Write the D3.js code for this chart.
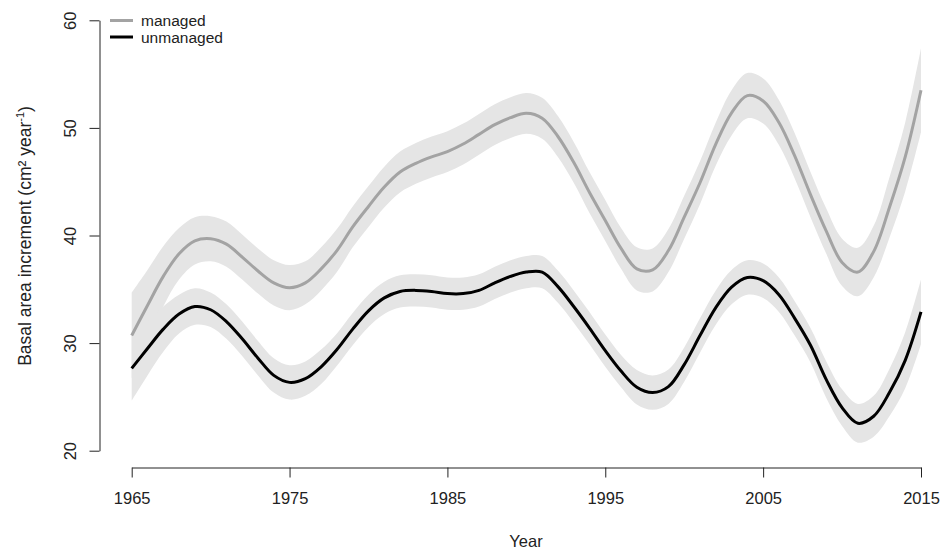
<!DOCTYPE html>
<html>
<head>
<meta charset="utf-8">
<script src="https://cdn.jsdelivr.net/npm/d3@7"></script>
<style>
  html, body { margin: 0; padding: 0; background: #fff; }
  svg { display: block; font-family: "Liberation Sans", Arial, sans-serif; }
</style>
</head>
<body>
<svg id="chart" width="943" height="552"></svg>
<script>
// Fitted basal area increment by year, with confidence half-widths
const years = d3.range(1965, 2016);
const managed = [30.7, 33.5, 36.2, 38.3, 39.5, 39.7, 39.2, 38.0, 36.7, 35.6,
  35.15, 35.6, 36.9, 38.6, 40.8, 42.7, 44.5, 45.9, 46.7, 47.3,
  47.8, 48.5, 49.4, 50.3, 50.95, 51.35, 50.9, 49.2, 46.8, 44.0,
  41.4, 38.8, 36.9, 36.8, 38.6, 41.7, 44.9, 48.5, 51.4, 53.0,
  52.5, 50.5, 47.4, 43.8, 40.4, 37.5, 36.6, 38.5, 42.6, 47.3, 53.5];
const unmanaged = [27.65, 29.5, 31.3, 32.7, 33.4, 33.1, 32.0, 30.4, 28.6, 27.0,
  26.35, 26.7, 27.8, 29.4, 31.3, 33.0, 34.2, 34.8, 34.9, 34.8,
  34.6, 34.6, 34.9, 35.6, 36.2, 36.6, 36.6, 35.25, 33.4, 31.4,
  29.3, 27.4, 25.9, 25.4, 25.95, 28.0, 30.7, 33.3, 35.2, 36.1,
  35.8, 34.5, 32.3, 29.8, 26.6, 24.0, 22.55, 23.2, 25.4, 28.4, 32.9];
const managedCI = [4.0, 3.3, 2.8, 2.4, 2.2, 2.1, 2.1, 2.1, 2.1, 2.1,
  2.1, 2.0, 2.0, 2.0, 1.9, 1.9, 1.9, 1.9, 1.9, 1.9,
  1.9, 1.9, 1.9, 1.9, 1.9, 1.9, 1.9, 1.9, 1.9, 1.9,
  1.9, 1.9, 2.0, 2.0, 2.0, 2.0, 2.0, 2.0, 2.1, 2.1,
  2.1, 2.1, 2.1, 2.1, 2.1, 2.2, 2.25, 2.4, 2.8, 3.2, 3.9];
const unmanagedCI = [3.0, 2.5, 2.1, 1.8, 1.7, 1.6, 1.6, 1.6, 1.6, 1.6,
  1.6, 1.6, 1.6, 1.5, 1.5, 1.5, 1.5, 1.5, 1.5, 1.5,
  1.5, 1.5, 1.5, 1.5, 1.5, 1.5, 1.5, 1.5, 1.5, 1.5,
  1.5, 1.5, 1.6, 1.6, 1.6, 1.6, 1.6, 1.6, 1.6, 1.6,
  1.6, 1.6, 1.6, 1.6, 1.7, 1.7, 1.8, 1.9, 2.2, 2.6, 3.0];
const xTicks = [1965, 1975, 1985, 1995, 2005, 2015];
const yTicks = [20, 30, 40, 50, 60];
const seriesNames = ["managed", "unmanaged"];
const seriesColors = ["#a3a3a3", "#000000"];

const svg = d3.select("#chart");
const x = d3.scaleLinear().domain([1965, 2015]).range([131.7, 921]);
const y = d3.scaleLinear().domain([20, 60]).range([450.7, 20.3]);
const textColor = "#222";
const fontSize = "16.5px";

const series = [
  { name: seriesNames[0], vals: managed, ci: managedCI, color: seriesColors[0] },
  { name: seriesNames[1], vals: unmanaged, ci: unmanagedCI, color: seriesColors[1] }
];

// confidence bands first, then the fitted lines on top
const area = d3.area()
  .x(d => x(d.year))
  .y0(d => y(d.v - d.ci))
  .y1(d => y(d.v + d.ci))
  .curve(d3.curveCatmullRom);
const line = d3.line()
  .x(d => x(d.year))
  .y(d => y(d.v))
  .curve(d3.curveCatmullRom);

series.forEach(s => {
  s.points = years.map((yr, i) => ({ year: yr, v: s.vals[i], ci: s.ci[i] }));
});

svg.append("g").selectAll("path").data(series).join("path")
  .attr("d", s => area(s.points))
  .attr("fill", "#e5e5e5");

svg.append("g").selectAll("path").data(series).join("path")
  .attr("d", s => line(s.points))
  .attr("fill", "none")
  .attr("stroke", s => s.color)
  .attr("stroke-width", 3)
  .attr("stroke-linejoin", "round");

// y axis
const yAxis = svg.append("g").attr("transform", "translate(99.5,0)")
  .call(d3.axisLeft(y).tickValues(yTicks).tickSize(10).tickSizeOuter(0).tickPadding(0).tickFormat(d3.format("d")));
yAxis.select(".domain").attr("stroke", "#222").attr("stroke-width", 1);
yAxis.selectAll(".tick line").attr("stroke", "#222");
yAxis.selectAll(".tick text")
  .attr("x", null).attr("dy", null)
  .attr("text-anchor", "middle")
  .attr("transform", "translate(-29.5,0) rotate(-90) translate(0,6)")
  .attr("fill", textColor)
  .style("font-size", fontSize)
  .style("font-family", "'Liberation Sans', Arial, sans-serif");

// x axis
const xAxis = svg.append("g").attr("transform", "translate(0,467.5)")
  .call(d3.axisBottom(x).tickValues(xTicks).tickSize(10).tickSizeOuter(0).tickPadding(15).tickFormat(d3.format("d")));
xAxis.select(".domain").attr("stroke", "#222").attr("stroke-width", 1);
xAxis.selectAll(".tick line").attr("stroke", "#222");
xAxis.selectAll(".tick text")
  .attr("fill", textColor)
  .style("font-size", fontSize)
  .style("font-family", "'Liberation Sans', Arial, sans-serif");

// axis titles
svg.append("text")
  .attr("x", 526).attr("y", 547)
  .attr("text-anchor", "middle")
  .attr("fill", textColor)
  .style("font-size", fontSize)
  .text("Year");

const yTitle = svg.append("text")
  .attr("transform", "translate(31,236) rotate(-90)")
  .attr("text-anchor", "middle")
  .attr("fill", textColor)
  .style("font-size", "17.5px");
yTitle.append("tspan").text("Basal area increment (cm² year");
yTitle.append("tspan").attr("dy", -7).style("font-size", "11px").text("-1");
yTitle.append("tspan").attr("dy", 7).text(")");

// legend
const legend = svg.append("g");
const legendRows = legend.selectAll("g").data(series).join("g")
  .attr("transform", (d, i) => `translate(110,${20.5 + i * 16.5})`);
legendRows.append("line")
  .attr("x1", 0).attr("x2", 23).attr("y1", 0).attr("y2", 0)
  .attr("stroke", d => d.color).attr("stroke-width", 3);
legendRows.append("text")
  .attr("x", 31).attr("y", 5.5)
  .attr("fill", textColor)
  .style("font-size", "15.5px")
  .text(d => d.name);
</script>
</body>
</html>
